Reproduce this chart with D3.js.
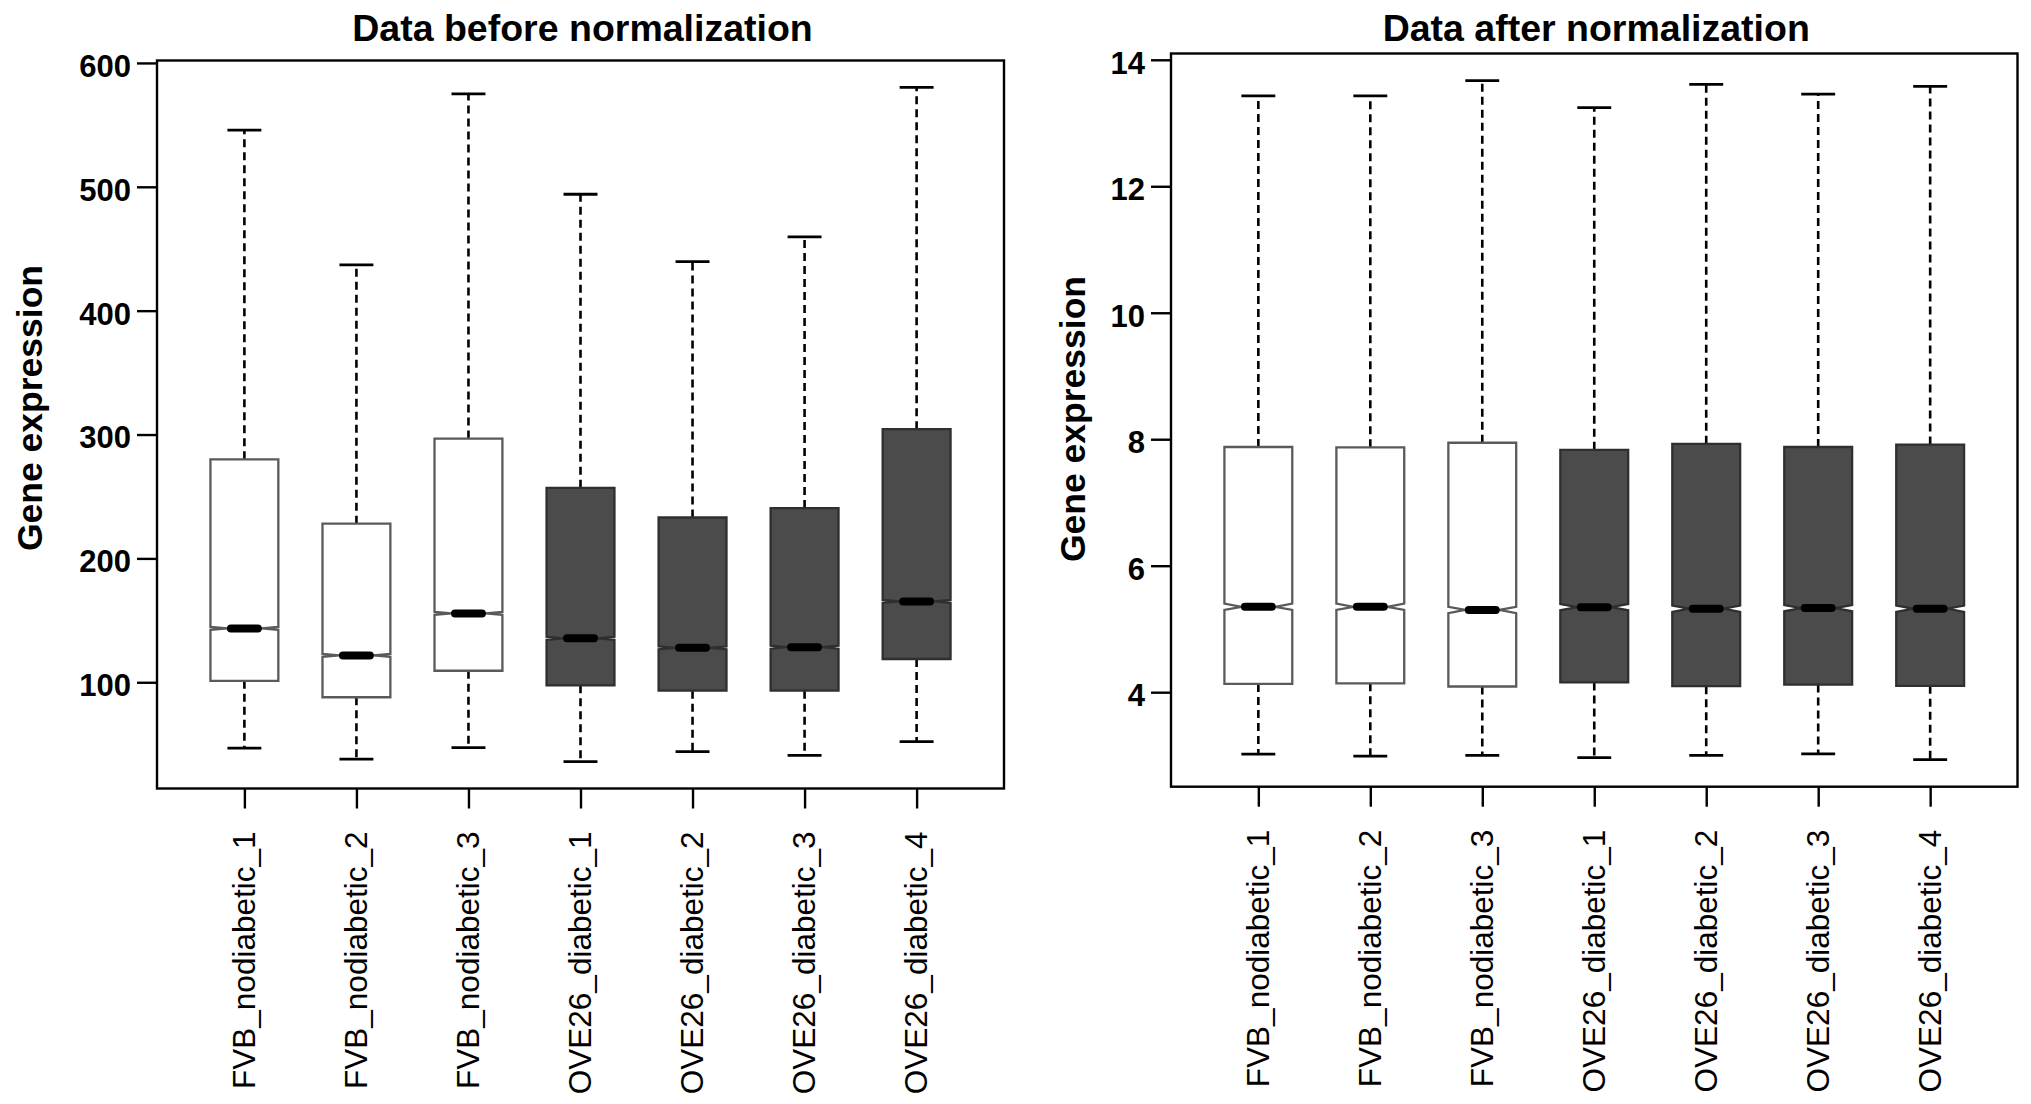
<!DOCTYPE html>
<html><head><meta charset="utf-8">
<script src="https://cdn.jsdelivr.net/npm/d3@7"></script>
<style>
body{margin:0;background:#fff}
text{font-family:"Liberation Sans",Arial,Helvetica,sans-serif;fill:#000}
</style>
</head><body>
<svg id="chart" width="2031" height="1104"></svg>
<script>
// ---------- data ----------
const samples = ["FVB_nodiabetic_1","FVB_nodiabetic_2","FVB_nodiabetic_3",
                 "OVE26_diabetic_1","OVE26_diabetic_2","OVE26_diabetic_3","OVE26_diabetic_4"];
const groups = ["FVB","FVB","FVB","OVE26","OVE26","OVE26","OVE26"];

// Data before normalization
const beforeLower  = [46.8, 38.0, 47.3, 36.0, 44.0, 41.0, 52.0];
const beforeQ1     = [101.2, 87.9, 109.3, 97.5, 93.2, 93.2, 118.8];
const beforeMedian = [143.5, 121.7, 155.6, 135.5, 127.8, 128.3, 165.3];
const beforeQ3     = [280.0, 228.0, 296.7, 257.0, 233.0, 240.6, 304.3];
const beforeUpper  = [545.7, 437.0, 575.1, 494.0, 439.6, 459.6, 580.2];
const beforeTicks  = [100, 200, 300, 400, 500, 600];
const beforeNotch  = 1.2;   // half-height of the notch around the median

// Data after normalization
const afterLower  = [3.02, 2.99, 3.00, 2.965, 3.00, 3.025, 2.935];
const afterQ1     = [4.13, 4.14, 4.09, 4.155, 4.095, 4.12, 4.10];
const afterMedian = [5.35, 5.35, 5.30, 5.345, 5.32, 5.33, 5.32];
const afterQ3     = [7.877, 7.872, 7.944, 7.833, 7.927, 7.877, 7.916];
const afterUpper  = [13.43, 13.43, 13.67, 13.245, 13.61, 13.456, 13.58];
const afterTicks  = [4, 6, 8, 10, 12, 14];
const afterNotch  = 0.05;

const titles = ["Data before normalization", "Data after normalization"];
const yTitle = "Gene expression";

// ---------- layout ----------
const panels = [
  {title: titles[0], lower: beforeLower, q1: beforeQ1, med: beforeMedian, q3: beforeQ3, upper: beforeUpper,
   ticks: beforeTicks, notch: beforeNotch,
   left: 157, right: 1004, top: 60.5, bottom: 788.5, ytitleX: 42, ytitleY: 408},
  {title: titles[1], lower: afterLower, q1: afterQ1, med: afterMedian, q3: afterQ3, upper: afterUpper,
   ticks: afterTicks, notch: afterNotch,
   left: 1171, right: 2017.5, top: 53.5, bottom: 786.7, ytitleX: 1085, ytitleY: 419}
];

const fills = {FVB: "#ffffff", OVE26: "#4b4b4b"};
const strokes = {FVB: "#5a5a5a", OVE26: "#2f2f2f"};
const halfW = 0.303;

const svg = d3.select("#chart");

panels.forEach(p => {
  const lo = d3.min(p.lower), hi = d3.max(p.upper);
  const ext = (hi - lo) * 0.04;
  const y = d3.scaleLinear().domain([lo - ext, hi + ext]).range([p.bottom, p.top]);
  const n = samples.length;
  const xe = n * 0.04;
  const x = d3.scaleLinear().domain([0.5 - xe, n + 0.5 + xe]).range([p.left, p.right]);

  const g = svg.append("g");

  // title
  g.append("text")
    .attr("x", (p.left + p.right) / 2 + 2)
    .attr("y", 41)
    .attr("text-anchor", "middle")
    .attr("font-size", 37.5)
    .attr("font-weight", "bold")
    .text(p.title);

  // y axis title
  g.append("text")
    .attr("transform", `translate(${p.ytitleX},${p.ytitleY}) rotate(-90)`)
    .attr("text-anchor", "middle")
    .attr("font-size", 35.5)
    .attr("font-weight", "bold")
    .text(yTitle);

  // y axis
  const yAxis = g.append("g")
    .attr("transform", `translate(${p.left},0)`)
    .call(d3.axisLeft(y).tickValues(p.ticks).tickSize(20).tickPadding(6).tickFormat(d3.format("d")));
  yAxis.select(".domain").remove();
  yAxis.selectAll(".tick line").attr("stroke", "#000").attr("stroke-width", 2.4);
  yAxis.selectAll(".tick text")
    .attr("font-size", 31).attr("font-weight", "bold")
    .attr("font-family", "Liberation Sans, Arial, sans-serif")
    .attr("dy", "0.43em").attr("fill", "#000");

  // x axis ticks
  const idx = d3.range(1, n + 1);
  const xAxis = g.append("g")
    .attr("transform", `translate(0,${p.bottom})`)
    .call(d3.axisBottom(x).tickValues(idx).tickSize(20).tickFormat(""));
  xAxis.select(".domain").remove();
  xAxis.selectAll(".tick line").attr("stroke", "#000").attr("stroke-width", 2.4);

  // x labels
  g.selectAll(".xlab").data(samples).enter().append("text")
    .attr("class", "xlab")
    .attr("transform", (d, i) => `translate(${x(i + 1)},${p.bottom + 43}) rotate(-90)`)
    .attr("text-anchor", "end")
    .attr("dy", "0.33em")
    .attr("font-size", 31.5)
    .text(d => d);

  // whiskers
  const bx = g.selectAll(".bx").data(idx).enter().append("g").attr("class", "bx");
  bx.append("line")
    .attr("x1", i => x(i)).attr("x2", i => x(i))
    .attr("y1", i => y(p.q3[i - 1])).attr("y2", i => y(p.upper[i - 1]))
    .attr("stroke", "#000").attr("stroke-width", 2.6).attr("stroke-dasharray", "8,5");
  bx.append("line")
    .attr("x1", i => x(i)).attr("x2", i => x(i))
    .attr("y1", i => y(p.q1[i - 1])).attr("y2", i => y(p.lower[i - 1]))
    .attr("stroke", "#000").attr("stroke-width", 2.6).attr("stroke-dasharray", "8,5");
  // staples
  [p.upper, p.lower].forEach(arr => {
    bx.append("line")
      .attr("x1", i => x(i - halfW * 0.5)).attr("x2", i => x(i + halfW * 0.5))
      .attr("y1", i => y(arr[i - 1])).attr("y2", i => y(arr[i - 1]))
      .attr("stroke", "#000").attr("stroke-width", 2.8);
  });

  // notched boxes
  const line = d3.line().x(d => x(d[0])).y(d => y(d[1]));
  bx.append("path")
    .attr("d", i => {
      const q1 = p.q1[i - 1], q3 = p.q3[i - 1], m = p.med[i - 1];
      const notch = p.notch;
      const pts = [
        [i - halfW, q1], [i - halfW, m - notch], [i - halfW * 0.5, m], [i - halfW, m + notch],
        [i - halfW, q3], [i + halfW, q3], [i + halfW, m + notch], [i + halfW * 0.5, m],
        [i + halfW, m - notch], [i + halfW, q1]
      ];
      return line(pts) + "Z";
    })
    .attr("fill", i => fills[groups[i - 1]])
    .attr("stroke", i => strokes[groups[i - 1]])
    .attr("stroke-width", 2.3)
    .attr("stroke-linejoin", "miter");

  // medians
  bx.append("line")
    .attr("x1", i => x(i - halfW * 0.5) + 3.5).attr("x2", i => x(i + halfW * 0.5) - 3.5)
    .attr("y1", i => y(p.med[i - 1])).attr("y2", i => y(p.med[i - 1]))
    .attr("stroke", "#000").attr("stroke-width", 8).attr("stroke-linecap", "round");

  // frame
  g.append("rect")
    .attr("x", p.left).attr("y", p.top)
    .attr("width", p.right - p.left).attr("height", p.bottom - p.top)
    .attr("fill", "none").attr("stroke", "#000").attr("stroke-width", 2.4);
});
</script>
</body></html>
